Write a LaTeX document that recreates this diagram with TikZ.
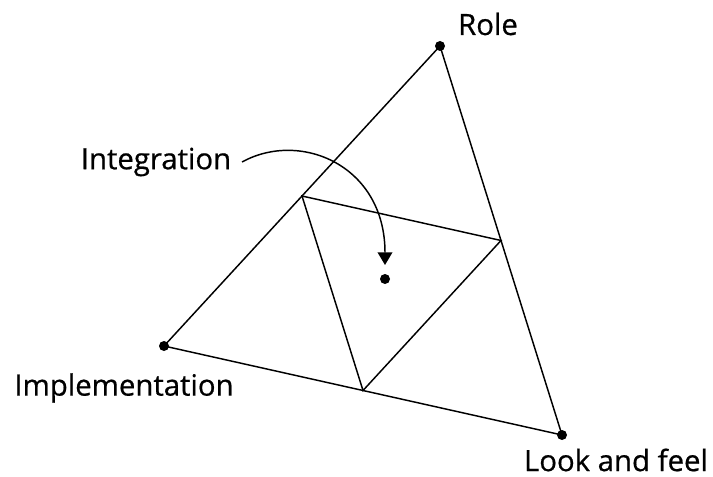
\documentclass[tikz,border=0pt]{standalone}
\usepackage{fontspec}
\setmainfont{Open Sans}[FakeBold=0.6]
\usetikzlibrary{arrows.meta,calc}

\begin{document}
\begin{tikzpicture}[
        x=0.75pt, y=-0.75pt,
        corner/.style={circle, fill, inner sep=0pt, minimum size=7.5pt},
        lbl/.style={font=\fontsize{22}{26}\selectfont, inner sep=0pt},
        side/.style={line width=1.1pt},
        arr/.style={-{Triangle[length=9.5pt,width=11pt]}, line width=1.1pt}
    ]
        \useasboundingbox (0,0) rectangle (713,477);

        \node[corner] (role) at (440,46) {};
        \node[corner] (impl) at (164,346) {};
        \node[corner] (look) at (562,435) {};
        \node[corner] (integ) at (385,279) {};

        \coordinate (ri) at ($(role)!0.5!(impl)$);
        \coordinate (rl) at ($(role)!0.5!(look)$);
        \coordinate (il) at ($(impl)!0.5!(look)$);

        \node[lbl] (roletxt)  at (488,24)  {Role};
        \node[lbl] (impltxt)  at (124,388) {Implementation};
        \node[lbl] (looktxt)  at (616,460) {Look and feel};
        \node[lbl] (integtxt) at (156,162) {Integration};

        \draw[side] (role.center) -- (impl.center) -- (look.center) -- cycle;
        \draw[side] (ri) -- (rl) -- (il) -- cycle;

        \draw[arr] ([xshift=8pt]integtxt.east) .. controls (300,130) and (385,165) .. (integ.north |- 0,265);
    \end{tikzpicture}
\end{document}
